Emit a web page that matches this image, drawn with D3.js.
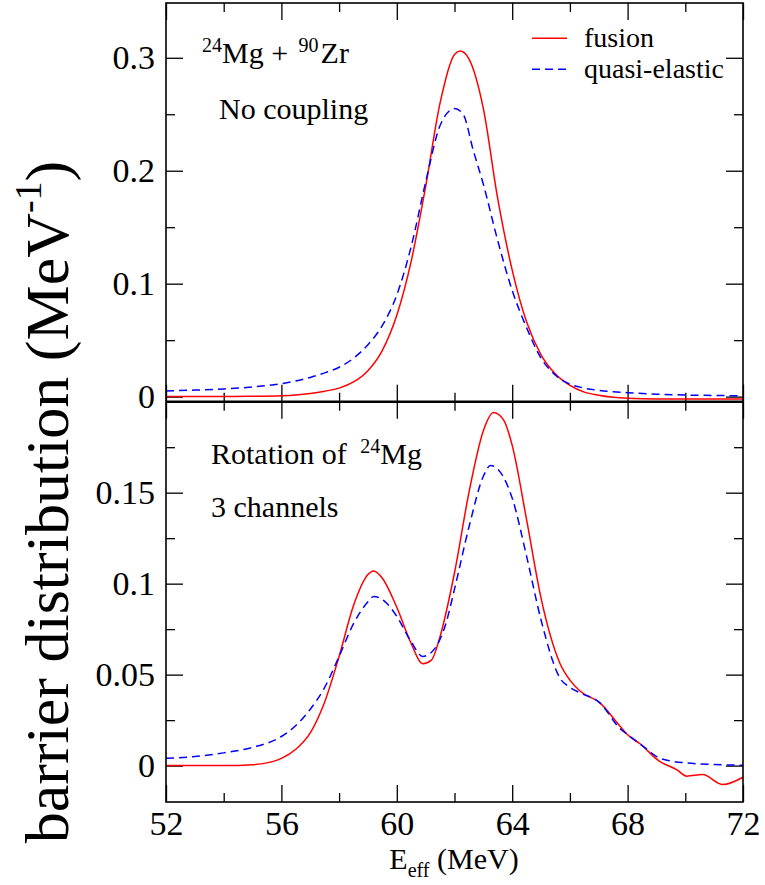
<!doctype html>
<html>
<head>
<meta charset="utf-8">
<style>
  body { margin: 0; background: #fff; }
  svg { display: block; }
  text { font-family: 'Liberation Serif', 'DejaVu Serif', serif; fill: #000; }
  .tick text { font-size: 34px; }
  .axis path { display: none; }
  .axis line { stroke: #000; stroke-width: 1.3; }
  .frame { fill: none; stroke: #000; stroke-width: 1.6; }
  .fusion { fill: none; stroke: #ff0000; stroke-width: 1.5; }
  .quasi { fill: none; stroke: #0000ff; stroke-width: 1.5; stroke-dasharray: 8 5; }
</style>
<script src="https://d3js.org/d3.v7.min.js"></script>
</head>
<body>
<svg width="765" height="885"></svg>
<script>
// [E (MeV), D (MeV^-1)]
const topFusion = [[52,0],[54,0],[55,0.0003],[56,0.0008],[56.5,0.0015],[57,0.0028],[57.5,0.0048],[58,0.0075],
  [58.5,0.013],[59,0.023],[59.5,0.041],[60,0.072],[60.5,0.12],[61,0.186],[61.5,0.26],[62,0.303],[62.2,0.306],
  [62.5,0.299],[63,0.255],[63.5,0.175],[64,0.112],[64.5,0.066],[65,0.037],[65.5,0.020],[66,0.010],[66.5,0.004],
  [67,0.0012],[67.5,-0.0006],[68,-0.0015],[69,-0.002],[70,-0.002],[72,-0.002]];
const topQuasi = [[52,0.005],[53,0.0058],[54,0.0068],[55,0.0085],[56,0.0115],[57,0.017],[57.5,0.021],[58,0.026],
  [58.5,0.034],[59,0.046],[59.5,0.063],[60,0.09],[60.5,0.133],[61,0.19],[61.5,0.24],[62,0.255],[62.3,0.250],
  [62.65,0.218],[63,0.188],[63.5,0.138],[64,0.094],[64.5,0.061],[65,0.034],[65.5,0.019],[66,0.011],[66.5,0.0075],
  [67,0.0055],[68,0.0035],[69,0.0022],[70,0.0014],[71,0.001],[72,0.0007]];
const botFusion = [[52,0],[54,0],[55,0.0005],[55.5,0.0015],[56,0.004],[56.5,0.009],[57,0.018],[57.5,0.035],
  [58,0.060],[58.5,0.088],[59,0.105],[59.2,0.107],[59.5,0.103],[60,0.087],[60.5,0.067],[60.9,0.056],[61.2,0.058],
  [61.5,0.071],[62,0.106],[62.5,0.150],[63,0.184],[63.35,0.194],[63.7,0.190],[64,0.176],[64.5,0.135],[65,0.092],
  [65.66,0.056],[66,0.047],[66.35,0.041],[67.04,0.0345],[67.74,0.0216],[68,0.017],[68.43,0.012],[69.1,0.0024],
  [69.7,-0.0022],[70.05,-0.0058],[70.6,-0.0049],[71.3,-0.0104],[72,-0.0064]];
const botQuasi = [[52,0.004],[53,0.005],[54,0.007],[55,0.010],[56,0.016],[56.5,0.022],[57,0.031],[57.5,0.043],
  [58,0.060],[58.5,0.078],[59,0.090],[59.2,0.093],[59.6,0.090],[60,0.082],[60.5,0.068],[60.9,0.060],[61.3,0.064],
  [61.7,0.078],[62,0.097],[62.5,0.131],[63,0.159],[63.25,0.165],[63.6,0.161],[64,0.147],[64.5,0.115],[65,0.080],
  [65.66,0.048],[66,0.043],[66.35,0.040],[67.04,0.0345],[67.74,0.0203],[68,0.017],[68.43,0.012],[69.1,0.0042],
  [69.5,0.0025],[70,0.0015],[71,0.0006],[72,0.0002]];

const xMajor = [52, 56, 60, 64, 68, 72];
const xMinor = [54, 58, 62, 66, 70];
const topMajor = [0, 0.1, 0.2, 0.3];
const topMinor = [0.05, 0.15, 0.25];
const botMajor = [0, 0.05, 0.1, 0.15];
const botMinor = [0.025, 0.075, 0.125, 0.175];

const svg = d3.select('svg');
const pLeft = 166, pRight = 743, pTop = 3, pMid = 401.7, pBottom = 802;

const x = d3.scaleLinear().domain([52, 72]).range([pLeft, pRight]);
const yTop = d3.scaleLinear().domain([-0.0045, 0.3485]).range([pMid, pTop]);
const yBot = d3.scaleLinear().domain([-0.02, 0.2]).range([pBottom, pMid]);

const fmt = d => d3.format('')(d);

function ticks(axisFn, scale, values, size, transform, labels, cls) {
  svg.append('g')
    .attr('class', 'axis ' + (cls || ''))
    .attr('transform', transform)
    .call(axisFn(scale).tickValues(values).tickSize(-size).tickSizeOuter(0)
      .tickPadding(labels ? 11 : 0)
      .tickFormat(labels ? fmt : ''));
}

// top panel
ticks(d3.axisLeft, yTop, topMajor, 17, `translate(${pLeft},0)`, true);
ticks(d3.axisLeft, yTop, topMinor, 9, `translate(${pLeft},0)`, false);
ticks(d3.axisRight, yTop, topMajor, 17, `translate(${pRight},0)`, false);
ticks(d3.axisRight, yTop, topMinor, 9, `translate(${pRight},0)`, false);
ticks(d3.axisTop, x, xMajor, 17, `translate(0,${pTop})`, false);
ticks(d3.axisTop, x, xMinor, 9, `translate(0,${pTop})`, false);
ticks(d3.axisBottom, x, xMajor, 17, `translate(0,${pMid})`, false);
ticks(d3.axisBottom, x, xMinor, 9, `translate(0,${pMid})`, false);

// bottom panel
ticks(d3.axisLeft, yBot, botMajor, 17, `translate(${pLeft},0)`, true);
ticks(d3.axisLeft, yBot, botMinor, 9, `translate(${pLeft},0)`, false);
ticks(d3.axisRight, yBot, botMajor, 17, `translate(${pRight},0)`, false);
ticks(d3.axisRight, yBot, botMinor, 9, `translate(${pRight},0)`, false);
ticks(d3.axisTop, x, xMajor, 17, `translate(0,${pMid})`, false);
ticks(d3.axisTop, x, xMinor, 9, `translate(0,${pMid})`, false);
ticks(d3.axisBottom, x, xMajor, 17, `translate(0,${pBottom})`, true, 'xlab');
ticks(d3.axisBottom, x, xMinor, 9, `translate(0,${pBottom})`, false);

// x labels a bit lower than default
svg.select('.xlab').selectAll('text').attr('y', 9);

// curves
const lineTop = d3.line().x(d => x(d[0])).y(d => yTop(d[1])).curve(d3.curveMonotoneX);
const lineBot = d3.line().x(d => x(d[0])).y(d => yBot(d[1])).curve(d3.curveMonotoneX);

svg.append('path').attr('class', 'fusion').attr('d', lineTop(topFusion));
svg.append('path').attr('class', 'quasi').attr('d', lineTop(topQuasi));
svg.append('path').attr('class', 'fusion').attr('d', lineBot(botFusion));
svg.append('path').attr('class', 'quasi').attr('d', lineBot(botQuasi));

// frames
svg.append('rect').attr('class', 'frame')
  .attr('x', pLeft).attr('y', pTop).attr('width', pRight - pLeft).attr('height', pBottom - pTop);
svg.append('line').attr('x1', pLeft).attr('x2', pRight).attr('y1', pMid).attr('y2', pMid)
  .attr('stroke', '#000').attr('stroke-width', 2.6);

// annotations
const t1 = svg.append('text').attr('x', 202).attr('y', 63).attr('font-size', 30);
t1.append('tspan').attr('font-size', 20).attr('dy', -11).text('24');
t1.append('tspan').attr('dy', 11).text('Mg + ');
t1.append('tspan').attr('font-size', 20).attr('dy', -11).attr('dx', 3).text('90');
t1.append('tspan').attr('dy', 11).attr('dx', 2).text('Zr');

svg.append('text').attr('x', 219).attr('y', 119).attr('font-size', 30).text('No coupling');

const t2 = svg.append('text').attr('x', 211).attr('y', 464).attr('font-size', 30);
t2.append('tspan').text('Rotation of ');
t2.append('tspan').attr('font-size', 20).attr('dy', -11).attr('dx', 6).text('24');
t2.append('tspan').attr('dy', 11).text('Mg');

svg.append('text').attr('x', 211).attr('y', 517).attr('font-size', 30).text('3 channels');

// legend
svg.append('line').attr('class', 'fusion').attr('x1', 532).attr('x2', 567).attr('y1', 38.3).attr('y2', 38.3);
svg.append('text').attr('x', 584).attr('y', 47).attr('font-size', 28).text('fusion');
svg.append('line').attr('class', 'quasi').attr('x1', 532).attr('x2', 567).attr('y1', 69.3).attr('y2', 69.3);
svg.append('text').attr('x', 584).attr('y', 78).attr('font-size', 28).text('quasi-elastic');

// axis titles
const xl = svg.append('text').attr('x', 454).attr('y', 869).attr('font-size', 30).attr('text-anchor', 'middle');
xl.append('tspan').text('E');
xl.append('tspan').attr('font-size', 20).attr('dy', 8).text('eff');
xl.append('tspan').attr('dy', -8).text(' (MeV)');

const yl = svg.append('text').attr('transform', 'translate(68,502) rotate(-90)')
  .attr('font-size', 62).attr('text-anchor', 'middle');
yl.append('tspan').text('barrier distribution (MeV');
yl.append('tspan').attr('font-size', 38).attr('dy', -27).text('-1');
yl.append('tspan').attr('dy', 27).text(')');
</script>
</body>
</html>
